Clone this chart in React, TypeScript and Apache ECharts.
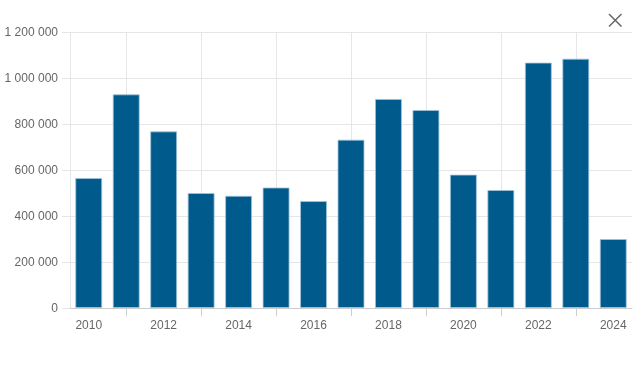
import React, { useEffect, useRef } from "react";
import * as echarts from "echarts";

const years = ["2010", "2011", "2012", "2013", "2014", "2015", "2016", "2017", "2018", "2019", "2020", "2021", "2022", "2023", "2024"];
const values = [565000, 929000, 768000, 500000, 488000, 524000, 465000, 732000, 909000, 861000, 580000, 513000, 1067000, 1084000, 300000];
const yTicks = { min: 0, max: 1200000, interval: 200000 };

const fmt = (v: number) => String(v).replace(/\B(?=(\d{3})+(?!\d))/g, " ");

export default function App() {
  const ref = useRef<HTMLDivElement>(null);
  useEffect(() => {
    if (!ref.current) return;
    const chart = echarts.init(ref.current, undefined, { renderer: "svg" });
    const font = "'Liberation Sans', Arial, sans-serif";
    chart.setOption({
      animation: false,
      grid: { left: 70, right: 1, top: 32, bottom: 82 },
      xAxis: {
        type: "category",
        data: years,
        axisLine: { show: true, lineStyle: { color: "#cccccc", width: 1 } },
        axisTick: {
          show: true,
          alignWithLabel: true,
          interval: (i: number) => i % 2 === 1,
          length: 8,
          lineStyle: { color: "#cccccc" },
        },
        axisLabel: { interval: 1, color: "#666666", fontSize: 12, fontFamily: font, margin: 11 },
        splitLine: {
          show: true,
          alignWithLabel: true,
          interval: (i: number) => i % 2 === 1,
          lineStyle: { color: "#e6e6e6", width: 1 },
        },
      },
      yAxis: {
        type: "value",
        min: yTicks.min,
        max: yTicks.max,
        interval: yTicks.interval,
        axisLine: { show: true, lineStyle: { color: "#e6e6e6" } },
        axisTick: { show: true, length: 8, lineStyle: { color: "#e6e6e6" } },
        axisLabel: { color: "#666666", fontSize: 12, fontFamily: font, margin: 12, formatter: (v: number) => fmt(v) },
        splitLine: { show: true, lineStyle: { color: "#e6e6e6", width: 1 } },
      },
      series: [
        {
          type: "bar",
          data: values,
          barCategoryGap: "28%",
          itemStyle: { color: "#015a8c", borderColor: "rgba(160,196,220,0.8)", borderWidth: 1 },
        },
      ],
      graphic: [
        { type: "line", shape: { x1: 609, y1: 14, x2: 621.5, y2: 26.5 }, style: { stroke: "#666666", lineWidth: 1.5 } },
        { type: "line", shape: { x1: 621.5, y1: 14, x2: 609, y2: 26.5 }, style: { stroke: "#666666", lineWidth: 1.5 } },
      ],
    });
    return () => chart.dispose();
  }, []);
  return <div ref={ref} style={{ position: "fixed", left: 0, top: 0, width: 633, height: 390 }} />;
}
